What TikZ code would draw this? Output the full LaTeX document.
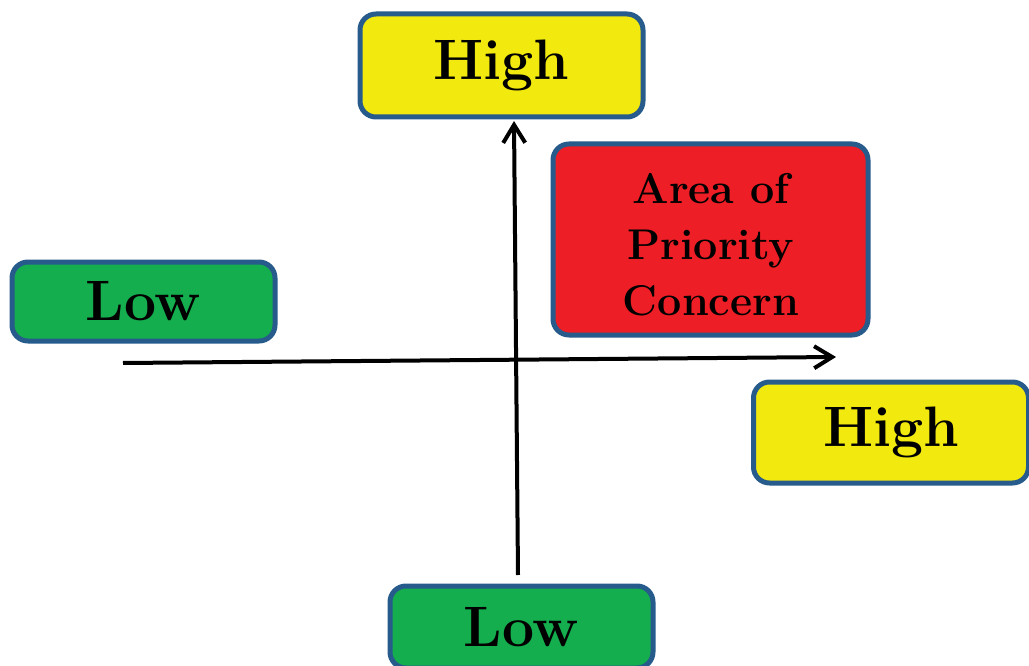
\documentclass[tikz,border=0pt]{standalone}
\usepackage{fontspec}
\setmainfont{Latin Modern Roman}
\usetikzlibrary{arrows.meta}
\definecolor{byellow}{HTML}{F2EA0E}
\definecolor{bgreen}{HTML}{15AE4E}
\definecolor{bred}{HTML}{ED1E25}
\definecolor{bborder}{HTML}{275B8C}
\tikzset{
  box/.style={draw=bborder, line width=5pt, rounded corners=16pt, inner sep=0pt, align=center,
    font=\bfseries\fontsize{57}{60}\selectfont},
  ybox/.style={box, fill=byellow},
  gbox/.style={box, fill=bgreen},
  rbox/.style={box, fill=bred},
  rtext/.style={inner sep=0pt, align=center, font=\bfseries\fontsize{43}{56}\selectfont},
  axis/.style={line width=4pt, -{Straight Barb[length=18pt,width=22pt,line width=4pt]}}
}
\begin{document}
\begin{tikzpicture}[x=1pt,y=-1pt]
\useasboundingbox (0,0) rectangle (1029,666);
\node[ybox, minimum width=283pt, minimum height=103pt] (tophigh) at (501.5,65.5) {High};
\node[rbox, minimum width=315pt, minimum height=191pt] (area) at (710.5,239.5) {};
\node[rtext] (areatext) at (711,245) {Area of\\Priority\\Concern};
\node[gbox, minimum width=263pt, minimum height=79pt] (leftlow) at (143.5,301.5) {Low};
\node[ybox, minimum width=275pt, minimum height=101pt] (righthigh) at (891,432.5) {High};
\node[gbox, minimum width=263pt, minimum height=82pt] (botlow) at (521.5,627) {Low};
\coordinate (vstart) at (518,575);
\coordinate (vend) at (514,121);
\coordinate (hstart) at (123,363);
\coordinate (hend) at (836,357);
\draw[axis] (vstart) -- (vend);
\draw[axis] (hstart) -- (hend);
\end{tikzpicture}
\end{document}
